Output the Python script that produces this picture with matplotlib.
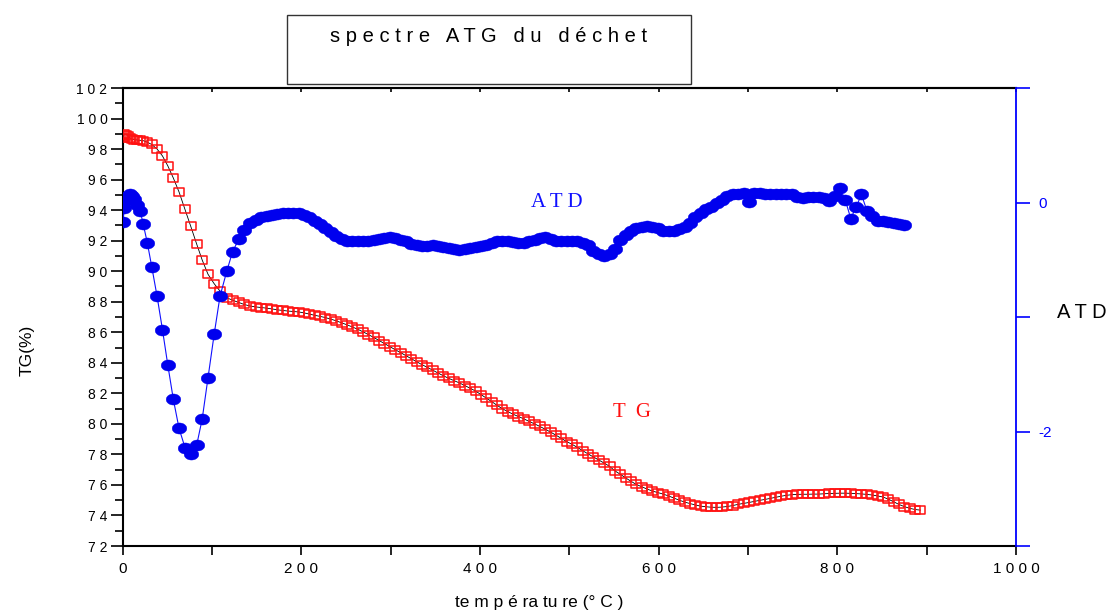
import matplotlib
matplotlib.use('Agg')
import matplotlib.pyplot as plt
from matplotlib.patches import Rectangle
from matplotlib.path import Path
from matplotlib.ticker import MultipleLocator, FixedLocator, FuncFormatter
import numpy as np

plt.rcParams['font.family'] = ['Liberation Sans', 'DejaVu Sans']

# ---------------- data ----------------
temperature = [0, 2, 4, 6, 8, 10, 13, 16, 19.5, 23, 27.5, 32.5, 38.5, 44.5, 50.5,
               56.7, 63, 69.7, 76, 82.8, 89, 95.5, 102.4, 108.9, 116.5, 123, 130, 136, 142.5, 149,
               155, 161, 167, 173, 179, 185, 191, 197, 203, 209,
               215, 221, 227, 233, 239, 245, 251, 257, 263, 269,
               275, 281, 287, 293, 299, 305, 311, 317, 323, 329,
               335, 341, 347, 353, 359, 365, 371, 377, 383, 389,
               395, 401, 407, 413, 419, 425, 431, 437, 443, 449,
               455, 461, 467, 473, 479, 485, 491, 497, 503, 509,
               515, 521, 527, 533, 539, 545, 551, 557, 563, 569,
               575, 581, 587, 593, 599, 605, 611, 617, 623, 629,
               635, 641, 647, 653, 659, 665, 671, 677, 683, 689,
               695, 701, 707, 713, 719, 725, 731, 737, 743, 749,
               755, 761, 767, 773, 779, 785, 791, 797, 803, 809,
               815, 821, 827, 833, 839, 845, 851, 857, 863, 869,
               875, 881, 887, 893]

tg_percent = [98.70, 99.00, 98.95, 98.85, 98.75, 98.65, 98.62, 98.60, 98.58, 98.55,
              98.45, 98.30, 98.00, 97.55, 96.90, 96.10, 95.20, 94.06, 92.97, 91.78,
              90.73, 89.80, 89.18, 88.70, 88.26, 88.10, 87.95, 87.82, 87.72, 87.66,
              87.62, 87.58, 87.53, 87.47, 87.43, 87.39, 87.36, 87.33, 87.27, 87.19,
              87.11, 87.04, 86.96, 86.86, 86.75, 86.62, 86.49, 86.35, 86.20, 86.03,
              85.85, 85.66, 85.46, 85.26, 85.06, 84.86, 84.67, 84.47, 84.27, 84.07,
              83.88, 83.70, 83.52, 83.33, 83.15, 82.98, 82.83, 82.68, 82.51, 82.33,
              82.15, 81.92, 81.69, 81.46, 81.22, 80.99, 80.81, 80.63, 80.48, 80.33,
              80.16, 80.00, 79.83, 79.65, 79.46, 79.26, 79.05, 78.84, 78.66, 78.46,
              78.24, 78.03, 77.83, 77.63, 77.43, 77.22, 76.92, 76.70, 76.46, 76.24,
              76.03, 75.88, 75.73, 75.60, 75.50, 75.40, 75.28, 75.14, 75.00, 74.88,
              74.78, 74.69, 74.61, 74.57, 74.54, 74.53, 74.55, 74.59, 74.65, 74.73,
              74.79, 74.85, 74.92, 74.99, 75.05, 75.12, 75.19, 75.26, 75.32, 75.36,
              75.38, 75.39, 75.39, 75.40, 75.40, 75.42, 75.44, 75.45, 75.46, 75.46,
              75.45, 75.43, 75.41, 75.38, 75.34, 75.28, 75.21, 75.07, 74.90, 74.72,
              74.58, 74.47, 74.39, 74.35]

atd_signal = [-0.17, -0.05, 0.02, 0.06, 0.07, 0.06, 0.03, -0.02, -0.07, -0.19,
              -0.35, -0.56, -0.82, -1.11, -1.42, -1.72, -1.97, -2.14, -2.20, -2.12,
              -1.89, -1.53, -1.15, -0.82, -0.60, -0.43, -0.32, -0.24, -0.18, -0.15,
              -0.130, -0.115, -0.105, -0.097, -0.092, -0.090, -0.090, -0.095, -0.110, -0.130,
              -0.160, -0.190, -0.225, -0.260, -0.295, -0.320, -0.335, -0.340, -0.340, -0.338,
              -0.333, -0.327, -0.320, -0.310, -0.305, -0.310, -0.325, -0.340, -0.360, -0.375,
              -0.380, -0.378, -0.375, -0.380, -0.390, -0.400, -0.410, -0.415, -0.410, -0.400,
              -0.390, -0.380, -0.367, -0.350, -0.340, -0.338, -0.340, -0.345, -0.352, -0.350,
              -0.340, -0.325, -0.310, -0.300, -0.315, -0.335, -0.338, -0.333, -0.332, -0.340,
              -0.355, -0.375, -0.420, -0.450, -0.465, -0.450, -0.410, -0.330, -0.280, -0.245,
              -0.225, -0.210, -0.205, -0.212, -0.225, -0.245, -0.250, -0.245, -0.230, -0.210,
              -0.175, -0.130, -0.090, -0.060, -0.035, -0.005, 0.025, 0.055, 0.070, 0.075,
              0.080, 0.005, 0.085, 0.083, 0.078, 0.072, 0.070, 0.072, 0.076, 0.075,
              0.050, 0.035, 0.045, 0.050, 0.052, 0.035, 0.012, 0.060, 0.125, 0.020,
              -0.140, -0.040, 0.070, -0.070, -0.120, -0.160, -0.165, -0.170, -0.178, -0.190,
              -0.200]
temperature_atd = temperature[:len(atd_signal)]

x_ticks_major = [0, 200, 400, 600, 800, 1000]
tg_ticks_major = [72, 74, 76, 78, 80, 82, 84, 86, 88, 90, 92, 94, 96, 98, 100, 102]
atd_ticks = [-3, -2, -1, 0, 1]
atd_labelled = [-2, 0]

title_text = "s p e c t r e   A T G   d u   d é c h e t"
xlabel_text = "te m p é ra tu re (° C )"
ylabel_text = "TG(%)"
ylabel2_text = "A T D"

# ---------------- figure ----------------
W, H = 1109, 612
fig = plt.figure(figsize=(W / 100, H / 100), dpi=100)
L, R, T, B = 122.7, 1016, 88, 546
ax = fig.add_axes([L / W, 1 - B / H, (R - L) / W, (B - T) / H])
ax2 = ax.twinx()

# markers
sq = [(-1, -0.74), (1, -0.74), (1, 0.74), (-1, 0.74), (-1, -0.74)]
sq_marker = Path(sq, [Path.MOVETO, Path.LINETO, Path.LINETO, Path.LINETO, Path.CLOSEPOLY])
th = np.linspace(0, 2 * np.pi, 40)
ell_marker = Path(np.column_stack([np.cos(th), 0.76 * np.sin(th)]))

ax.plot(temperature, tg_percent, color='black', lw=0.6, zorder=2)
ax.plot(temperature, tg_percent, ls='none', marker=sq_marker, markersize=7.6,
        markerfacecolor='none', markeredgecolor='#ff1010', markeredgewidth=1.1, zorder=3)

ax2.plot(temperature_atd, atd_signal, color='#1010ff', lw=0.8, zorder=2)
ax2.plot(temperature_atd, atd_signal, ls='none', marker=ell_marker, markersize=10.5,
         markerfacecolor='#0000ee', markeredgecolor='#0000ee', markeredgewidth=0.3, zorder=3)

ax.set_xlim(0, 1000)
ax.set_ylim(72, 102)
ax2.set_ylim(-3, 1)

def spaced(v, pos=None):
    return " ".join(f"{v:g}")

# left axis
ax.yaxis.set_major_locator(FixedLocator(tg_ticks_major))
ax.yaxis.set_minor_locator(MultipleLocator(1))
ax.yaxis.set_major_formatter(FuncFormatter(spaced))
ax.tick_params(axis='y', which='major', direction='out', length=9, width=1.2,
               labelsize=10, pad=2, colors='black')
ax.tick_params(axis='y', which='minor', direction='out', length=5.5, width=1.2)

# bottom axis
ax.xaxis.set_major_locator(FixedLocator(x_ticks_major))
ax.xaxis.set_minor_locator(MultipleLocator(100))
ax.xaxis.set_major_formatter(FuncFormatter(spaced))
ax.tick_params(axis='x', which='both', direction='out', length=6.5, width=1.2,
               labelsize=11, pad=5)
ax.tick_params(axis='x', which='both', top=False)

# top axis ticks pointing inward
sec = ax.secondary_xaxis('top')
sec.xaxis.set_major_locator(MultipleLocator(100))
sec.tick_params(axis='x', direction='in', length=3, width=1.2, labeltop=False)
sec.spines['top'].set_linewidth(1.5)

for s in ['left', 'bottom', 'top']:
    ax.spines[s].set_linewidth(1.5)
    ax.spines[s].set_color('black')
ax.spines['right'].set_visible(False)

# right axis
for s in ['left', 'bottom', 'top']:
    ax2.spines[s].set_visible(False)
ax2.spines['right'].set_color('#0000ff')
ax2.spines['right'].set_linewidth(1.3)
ax2.yaxis.set_major_locator(FixedLocator(atd_ticks))
ax2.yaxis.set_major_formatter(FuncFormatter(lambda v, p: f"{v:g}" if v in atd_labelled else ""))
ax2.tick_params(axis='y', direction='out', length=10, width=1.2, colors='#0000ff',
                labelsize=11, pad=6)

# annotations
ax2.text(486, 0.0, "A T D", color='#1010ff', family=['Liberation Serif'],
         fontsize=15, ha='center', va='center')
ax.text(570, 80.75, "T  G", color='#ff1010', family=['Liberation Serif'],
        fontsize=15, ha='center', va='center')

# axis labels
fig.text(27 / W, 1 - 350 / H, ylabel_text, rotation=90, ha='center', va='center', fontsize=12.5)
fig.text(539 / W, 1 - 603 / H, xlabel_text, ha='center', va='center', fontsize=12.5)
fig.text(1082 / W, 1 - 312 / H, ylabel2_text, ha='center', va='center', fontsize=14.5)

# title box
fig.patches.append(Rectangle((287 / W, 1 - 84 / H), (691 - 287) / W, (84 - 15) / H,
                             transform=fig.transFigure, fill=False, ec='#333333', lw=1.0))
fig.text(489 / W, 1 - 37 / H, title_text, ha='center', va='center', fontsize=14.5)

fig.savefig('out.png', dpi=100)
